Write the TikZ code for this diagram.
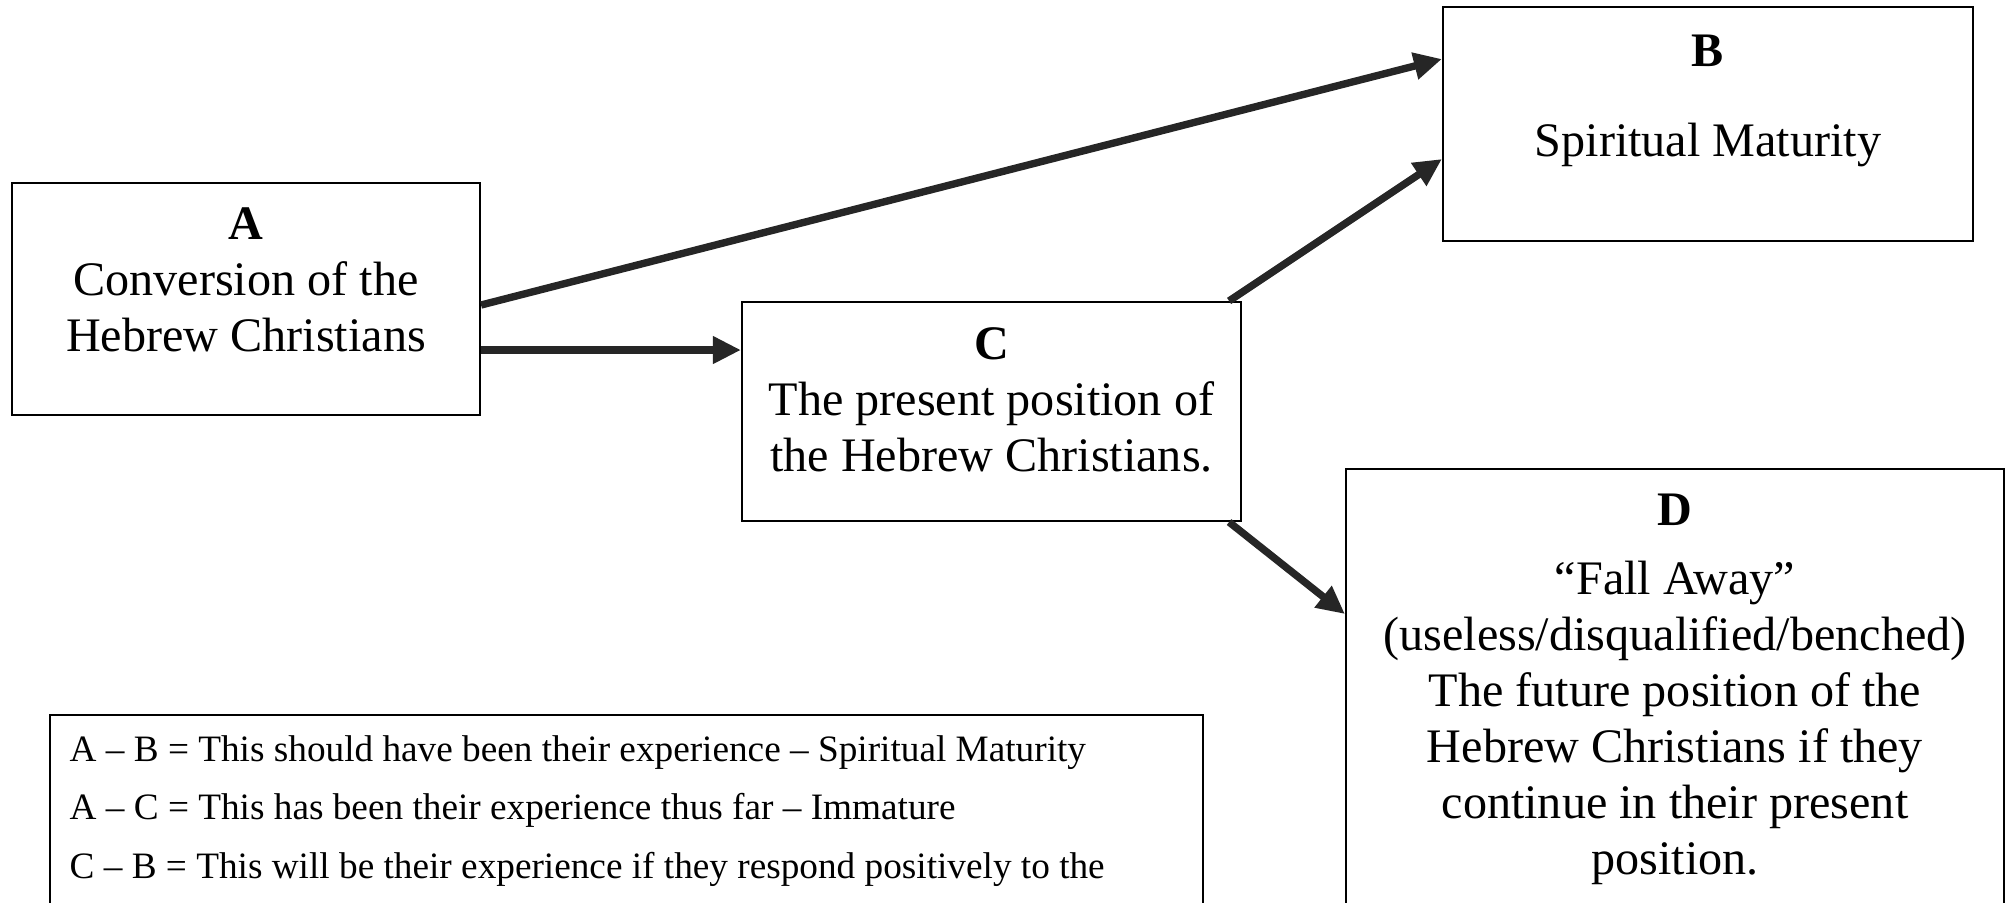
\documentclass[tikz,border=0pt]{standalone}
\usepackage{fontspec}
\setmainfont{Liberation Serif}
\usetikzlibrary{arrows.meta}

\tikzset{
  box/.style={draw, line width=0.6pt, inner sep=0pt},
  txt/.style={align=center, inner sep=0pt, anchor=north,
    font=\fontsize{13.7}{15.9}\selectfont},
  key/.style={align=left, inner sep=0pt, anchor=north west,
    font=\fontsize{10.6}{16.6}\selectfont},
  arr/.style={draw=black!85, line width=2.1pt,
    -{Triangle[length=2.8mm, width=2.6mm]}}
}

\begin{document}
\begin{tikzpicture}
    \clip (0,0) rectangle (20.11,-9.02);

    % Boxes
    \node[box, minimum width=4.68cm, minimum height=2.32cm] (A) at (2.46,-2.99) {};
    \node[box, minimum width=5.30cm, minimum height=2.34cm] (B) at (17.08,-1.24) {};
    \node[box, minimum width=4.99cm, minimum height=2.19cm] (C) at (9.915,-4.115) {};
    \node[box, minimum width=6.58cm, minimum height=4.8cm, anchor=north] (D) at (16.75,-4.68) {};
    \node[box, minimum width=11.53cm, minimum height=2.5cm, anchor=north west] (key) at (0.49,-7.14) {};

    % Texts
    \node[txt] (A-t) at ([yshift=-2.5mm]A.north) {\textbf{A}\\Conversion of the\\Hebrew Christians};
    \node[txt] (B-t) at ([yshift=-2.8mm]B.north) {\textbf{B}\\[3.4mm]Spiritual Maturity};
    \node[txt] (C-t) at ([yshift=-2.6mm]C.north) {\textbf{C}\\The present position of\\the Hebrew Christians.};
    \node[txt] (D-t) at ([yshift=-2.55mm]D.north) {\textbf{D}\\[1.3mm]“Fall Away”\\(useless/disqualified/benched)\\The future position of the\\Hebrew Christians if they\\continue in their present\\position.};
    \node[key] (key-t) at ([xshift=2mm, yshift=-2.1mm]key.north west) {A -- B = This should have been their experience -- Spiritual Maturity\\A -- C = This has been their experience thus far -- Immature\\C -- B = This will be their experience if they respond positively to the};

    % Arrows
    \coordinate (ac) at ([yshift=-5.1mm]A.east);
    \draw[arr] ([yshift=-0.6mm]A.east) -- ([yshift=6.5mm]B.west);
    \draw[arr] (ac) -- (ac -| C.west);
    \draw[arr] ([xshift=-1.3mm]C.north east) -- ([yshift=-3.5mm]B.west);
    \draw[arr] ([xshift=-1.3mm]C.south east) -- ([yshift=-14.6mm]D.north west);
\end{tikzpicture}
\end{document}
